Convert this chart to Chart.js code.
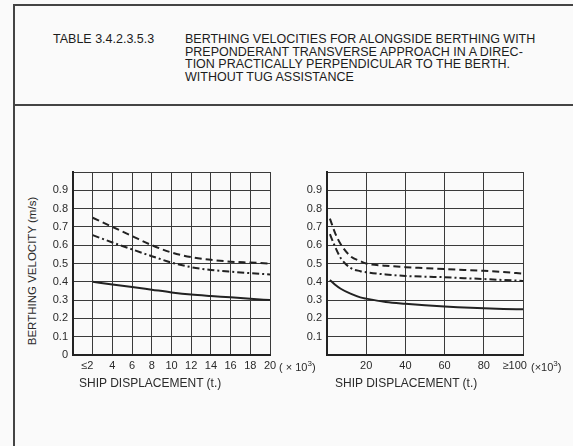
<!DOCTYPE html>
<html>
<head>
<meta charset="utf-8">
<script src="https://cdn.jsdelivr.net/npm/chart.js@4"></script>
<style>
  html, body { margin: 0; padding: 0; }
  body {
    width: 573px; height: 446px; position: relative; overflow: hidden;
    background: #fafafa; color: #2a2a2a;
    font-family: "Liberation Sans", Arial, sans-serif;
  }
  .frame { position: absolute; left: 13px; top: 4px; width: 600px; height: 500px;
    border-left: 2px solid #444; border-top: 2px solid #444; }
  .sep { position: absolute; left: 13px; top: 104px; width: 600px; border-top: 2px solid #444; }
  .txt { position: absolute; white-space: nowrap; }
  .head { font-size: 12.5px; line-height: 12.6px; top: 33px; color: #1c1c1c; }
  .box { position: absolute; }
  .ytitle { font-size: 11.5px; left: 31.5px; top: 271px;
    transform: translate(-50%, -50%) rotate(-90deg); }
  .xtitle { font-size: 12px; line-height: 14px; top: 376px; }
  .mult { font-size: 11px; line-height: 13px; top: 357px; }
</style>
</head>
<body>
<div class="frame"></div>
<div class="sep"></div>

<div class="txt head" style="left:53px">TABLE 3.4.2.3.5.3</div>
<div class="txt head" style="left:185px">BERTHING VELOCITIES FOR ALONGSIDE BERTHING WITH<br>PREPONDERANT TRANSVERSE APPROACH IN A DIREC-<br>TION PRACTICALLY PERPENDICULAR TO THE BERTH.<br>WITHOUT TUG ASSISTANCE</div>

<div class="txt ytitle">BERTHING VELOCITY (m/s)</div>

<div class="box" style="left:20px; top:160px; width:290px; height:230px"><canvas id="chart-izq"></canvas></div>
<div class="box" style="left:280px; top:160px; width:290px; height:230px"><canvas id="chart-der"></canvas></div>

<div class="txt mult" style="left:279px">( × 10<sup style="font-size:8px">3</sup>)</div>
<div class="txt mult" style="left:531px">(×10<sup style="font-size:8px">3</sup>)</div>

<div class="txt xtitle" style="left:79px">SHIP DISPLACEMENT (t.)</div>
<div class="txt xtitle" style="left:335px">SHIP DISPLACEMENT (t.)</div>

<script>
// ------------------------------------------------------------
// Datos (desplazamiento en miles de t, velocidad en m/s)
// ------------------------------------------------------------

// gráfica izquierda: hasta 20 000 t
const izqX = [2, 4, 6, 8, 10, 12, 14, 16, 18, 20];
const izqDiscontinua = [0.75, 0.70, 0.65, 0.60, 0.56, 0.535, 0.52, 0.51, 0.505, 0.50];
const izqPuntoRaya = [0.655, 0.615, 0.577, 0.54, 0.505, 0.48, 0.465, 0.455, 0.447, 0.44];
const izqContinua = [0.40, 0.385, 0.372, 0.357, 0.342, 0.33, 0.322, 0.315, 0.307, 0.30];

// gráfica derecha: hasta 100 000 t
const derX = [1.5, 4, 7, 12, 17, 20, 30, 40, 50, 60, 70, 80, 90, 100];
const derDiscontinua = [0.745, 0.67, 0.605, 0.54, 0.513, 0.50, 0.488, 0.48, 0.475, 0.47, 0.465, 0.46, 0.453, 0.445];
const derPuntoRaya = [0.66, 0.595, 0.53, 0.476, 0.458, 0.452, 0.44, 0.432, 0.428, 0.425, 0.42, 0.415, 0.41, 0.405];
const derContinua = [0.41, 0.385, 0.362, 0.335, 0.315, 0.308, 0.29, 0.28, 0.272, 0.265, 0.26, 0.255, 0.252, 0.25];

// ejes
const velMax = 1.0;
const velPaso = 0.1;
const izqMax = 20, izqPaso = 2;
const derMax = 100, derPaso = 20;

const FUENTE = "'Liberation Sans', Arial, sans-serif";
const TINTA = '#222';

/**
 * Convierte dos arrays en puntos {x, y} para la escala lineal.
 */
function puntos(xs, ys) {
  return xs.map((x, i) => ({ x: x, y: ys[i] }));
}

function serie(xs, ys, dash) {
  return {
    data: puntos(xs, ys),
    borderColor: TINTA,
    borderWidth: 2,
    borderDash: dash,
    pointRadius: 0,
    cubicInterpolationMode: 'monotone',
    fill: false
  };
}

/**
 * Crea una de las dos gráficas con la misma apariencia.
 */
function crearGrafica(id, xs, series, opts) {
  const canvas = document.getElementById(id);
  return new Chart(canvas, {
    type: 'line',
    data: {
      datasets: [
        serie(xs, series[0], [7, 4]),
        serie(xs, series[1], [7, 3, 2, 3]),
        serie(xs, series[2], [])
      ]
    },
    options: {
      responsive: true,
      maintainAspectRatio: false,
      animation: false,
      layout: { padding: { top: 12, right: opts.padDer, bottom: 0, left: 0 } },
      plugins: { legend: { display: false }, tooltip: { enabled: false } },
      scales: {
        x: {
          type: 'linear',
          min: 0,
          max: opts.max,
          afterFit: (s) => { s.height = 35; s.paddingLeft = 0; s.paddingRight = 0; },
          ticks: {
            stepSize: opts.paso,
            autoSkip: false,
            maxRotation: 0,
            padding: 4,
            color: '#2a2a2a',
            font: { size: 11, family: FUENTE },
            callback: opts.etiquetaX
          },
          grid: { color: '#3a3a3a', lineWidth: 1, drawTicks: false },
          border: { color: TINTA, width: 2 }
        },
        y: {
          min: 0,
          max: velMax,
          afterFit: (s) => { s.width = opts.anchoY; s.paddingTop = 0; s.paddingBottom = 0; },
          ticks: {
            stepSize: velPaso,
            padding: 5,
            color: '#2a2a2a',
            font: { size: 11, family: FUENTE },
            callback: (v) => {
              if (v > 0.95) return '';
              if (v === 0) return opts.cero ? '0' : '';
              return v.toFixed(1);
            }
          },
          grid: { color: '#3a3a3a', lineWidth: 1, drawTicks: false },
          border: { color: TINTA, width: 2 }
        }
      }
    }
  });
}

crearGrafica('chart-izq', izqX, [izqDiscontinua, izqPuntoRaya, izqContinua], {
  max: izqMax, paso: izqPaso, padDer: 40, anchoY: 53, cero: true,
  etiquetaX: (v) => v === 0 ? '' : (v === 2 ? '≤2\u2003' : String(v))
});

crearGrafica('chart-der', derX, [derDiscontinua, derPuntoRaya, derContinua], {
  max: derMax, paso: derPaso, padDer: 47, anchoY: 47, cero: false,
  etiquetaX: (v) => v === 0 ? '' : (v === 100 ? '≥100\u2003\u2002' : String(v))
});
</script>
</body>
</html>
